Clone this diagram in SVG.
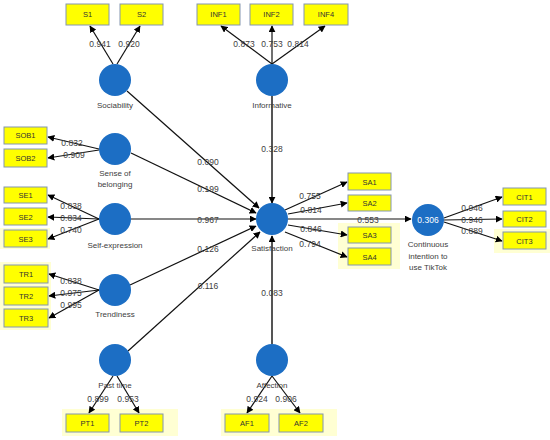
<svg xmlns="http://www.w3.org/2000/svg" width="550" height="440" viewBox="0 0 550 440">
<defs>
<marker id="ah" viewBox="0 0 10 10" refX="9" refY="5" markerWidth="7" markerHeight="7" markerUnits="userSpaceOnUse" orient="auto">
<path d="M0,0 L10,5 L0,10 z" fill="#000"/>
</marker>
<style>
.box{fill:#FFFF00;stroke:#8496B0;stroke-width:1}
.hl{fill:#FFFFC0;opacity:0.7}
.lv{fill:#1C6EC4}
.bt{font-family:"Liberation Sans",Arial,sans-serif;font-size:7.5px;fill:#333;text-anchor:middle}
.lb{font-family:"Liberation Sans",Arial,sans-serif;font-size:8px;fill:#404040;text-anchor:middle}
.cf{font-family:"Liberation Sans",Arial,sans-serif;font-size:8.5px;fill:#404040;text-anchor:middle}
.ln{stroke:#111;stroke-width:1.2;fill:none}
.gv{stroke:#555;stroke-width:2;fill:none}
</style>
</defs>
<rect width="550" height="440" fill="#fff"/>
<g id="highlights">
<rect class="hl" x="338" y="223" width="62" height="46"/>
<rect class="hl" x="494" y="229" width="56" height="24"/>
<rect class="hl" x="0" y="228" width="50" height="21"/>
<rect class="hl" x="0" y="262" width="51" height="68"/>
<rect class="hl" x="62" y="409" width="116" height="27"/>
<rect class="hl" x="221" y="409" width="116" height="27"/>
</g>
<g id="connectors">
<line class="ln" x1="113" y1="64" x2="90" y2="26" marker-end="url(#ah)"/>
<line class="ln" x1="117" y1="64" x2="140" y2="26" marker-end="url(#ah)"/>
<line class="ln" x1="272" y1="64" x2="221" y2="26" marker-end="url(#ah)"/>
<line class="ln" x1="272" y1="64" x2="272" y2="26" marker-end="url(#ah)"/>
<line class="ln" x1="272" y1="64" x2="325" y2="26" marker-end="url(#ah)"/>
<line class="ln" x1="99" y1="149" x2="48" y2="137" marker-end="url(#ah)"/>
<line class="ln" x1="99" y1="150" x2="48" y2="158" marker-end="url(#ah)"/>
<line class="ln" x1="99" y1="219" x2="48" y2="195" marker-end="url(#ah)"/>
<line class="ln" x1="99" y1="219" x2="48" y2="217" marker-end="url(#ah)"/>
<line class="ln" x1="99" y1="219" x2="48" y2="239" marker-end="url(#ah)"/>
<line class="ln" x1="99" y1="290" x2="49" y2="274" marker-end="url(#ah)"/>
<line class="ln" x1="99" y1="290" x2="49" y2="296" marker-end="url(#ah)"/>
<line class="ln" x1="99" y1="290" x2="49" y2="318" marker-end="url(#ah)"/>
<line class="ln" x1="113" y1="376" x2="89" y2="413" marker-end="url(#ah)"/>
<line class="ln" x1="117" y1="376" x2="139" y2="413" marker-end="url(#ah)"/>
<line class="ln" x1="272" y1="376" x2="247" y2="413" marker-end="url(#ah)"/>
<line class="ln" x1="272" y1="376" x2="300" y2="413" marker-end="url(#ah)"/>
<line class="ln" x1="127" y1="91" x2="259" y2="208" marker-end="url(#ah)"/>
<line class="ln" x1="131" y1="153" x2="256" y2="213" marker-end="url(#ah)"/>
<line class="ln" x1="131" y1="219" x2="256" y2="219" marker-end="url(#ah)"/>
<line class="ln" x1="130" y1="285" x2="256" y2="226" marker-end="url(#ah)"/>
<line class="ln" x1="128" y1="351" x2="260" y2="232" marker-end="url(#ah)"/>
<line class="gv" x1="272" y1="96" x2="272" y2="203" marker-end="url(#ah)"/>
<line class="gv" x1="272" y1="344" x2="272" y2="236" marker-end="url(#ah)"/>
<line class="ln" x1="285" y1="210" x2="347" y2="182" marker-end="url(#ah)"/>
<line class="ln" x1="288" y1="214" x2="347" y2="203" marker-end="url(#ah)"/>
<line class="ln" x1="288" y1="225" x2="347" y2="235" marker-end="url(#ah)"/>
<line class="ln" x1="285" y1="232" x2="347" y2="257" marker-end="url(#ah)"/>
<line class="ln" x1="288" y1="219" x2="411" y2="219" marker-end="url(#ah)"/>
<line class="ln" x1="444" y1="218" x2="502" y2="197" marker-end="url(#ah)"/>
<line class="ln" x1="444" y1="220" x2="502" y2="219" marker-end="url(#ah)"/>
<line class="ln" x1="444" y1="222" x2="502" y2="241" marker-end="url(#ah)"/>
</g>
<g id="coefficients">
<text class="cf" x="100" y="47">0.941</text>
<text class="cf" x="129" y="47">0.920</text>
<text class="cf" x="244" y="47">0.873</text>
<text class="cf" x="272" y="47">0.753</text>
<text class="cf" x="298" y="47">0.814</text>
<text class="cf" x="72" y="146">0.832</text>
<text class="cf" x="74" y="158">0.909</text>
<text class="cf" x="71" y="209">0.838</text>
<text class="cf" x="71" y="221">0.834</text>
<text class="cf" x="71" y="233">0.740</text>
<text class="cf" x="71" y="284">0.838</text>
<text class="cf" x="71" y="296">0.975</text>
<text class="cf" x="71" y="308">0.995</text>
<text class="cf" x="98" y="402">0.899</text>
<text class="cf" x="128" y="402">0.953</text>
<text class="cf" x="257" y="402">0.924</text>
<text class="cf" x="286" y="402">0.906</text>
<text class="cf" x="208" y="165">0.090</text>
<text class="cf" x="208" y="192">0.199</text>
<text class="cf" x="208" y="223">0.967</text>
<text class="cf" x="208" y="252">0.126</text>
<text class="cf" x="208" y="289">0.116</text>
<text class="cf" x="272" y="152">0.328</text>
<text class="cf" x="272" y="296">0.083</text>
<text class="cf" x="310" y="199">0.755</text>
<text class="cf" x="311" y="213">0.814</text>
<text class="cf" x="311" y="232">0.846</text>
<text class="cf" x="310" y="247">0.794</text>
<text class="cf" x="368" y="223">0.553</text>
<text class="cf" x="472" y="211">0.946</text>
<text class="cf" x="472" y="223">0.946</text>
<text class="cf" x="472" y="234">0.889</text>
</g>
<g id="S1"><rect class="box" x="66" y="4" width="43" height="21"/><text class="bt" x="87.5" y="17">S1</text></g>
<g id="S2"><rect class="box" x="120" y="4" width="43" height="21"/><text class="bt" x="141.5" y="17">S2</text></g>
<g id="INF1"><rect class="box" x="197" y="4" width="43" height="21"/><text class="bt" x="218.5" y="17">INF1</text></g>
<g id="INF2"><rect class="box" x="250" y="4" width="43" height="21"/><text class="bt" x="271.5" y="17">INF2</text></g>
<g id="INF4"><rect class="box" x="304" y="4" width="44" height="21"/><text class="bt" x="326" y="17">INF4</text></g>
<g id="SOB1"><rect class="box" x="4" y="127" width="43" height="17"/><text class="bt" x="25.5" y="138">SOB1</text></g>
<g id="SOB2"><rect class="box" x="4" y="149" width="43" height="18"/><text class="bt" x="25.5" y="161">SOB2</text></g>
<g id="SE1"><rect class="box" x="4" y="187" width="43" height="16"/><text class="bt" x="25.5" y="198">SE1</text></g>
<g id="SE2"><rect class="box" x="4" y="208" width="43" height="17"/><text class="bt" x="25.5" y="219.5">SE2</text></g>
<g id="SE3"><rect class="box" x="4" y="230" width="43" height="17"/><text class="bt" x="25.5" y="241.5">SE3</text></g>
<g id="TR1"><rect class="box" x="4" y="265" width="44" height="18"/><text class="bt" x="26" y="277">TR1</text></g>
<g id="TR2"><rect class="box" x="4" y="287" width="44" height="18"/><text class="bt" x="26" y="299">TR2</text></g>
<g id="TR3"><rect class="box" x="4" y="309" width="44" height="18"/><text class="bt" x="26" y="321">TR3</text></g>
<g id="PT1"><rect class="box" x="66" y="414" width="43" height="18"/><text class="bt" x="87.5" y="426">PT1</text></g>
<g id="PT2"><rect class="box" x="120" y="414" width="43" height="18"/><text class="bt" x="141.5" y="426">PT2</text></g>
<g id="AF1"><rect class="box" x="225" y="414" width="44" height="18"/><text class="bt" x="247" y="426">AF1</text></g>
<g id="AF2"><rect class="box" x="279" y="414" width="44" height="18"/><text class="bt" x="301" y="426">AF2</text></g>
<g id="SA1"><rect class="box" x="348" y="173" width="43" height="17"/><text class="bt" x="369.5" y="184.5">SA1</text></g>
<g id="SA2"><rect class="box" x="348" y="195" width="43" height="16"/><text class="bt" x="369.5" y="206">SA2</text></g>
<g id="SA3"><rect class="box" x="348" y="227" width="43" height="16"/><text class="bt" x="369.5" y="238">SA3</text></g>
<g id="SA4"><rect class="box" x="348" y="248" width="43" height="17"/><text class="bt" x="369.5" y="259.5">SA4</text></g>
<g id="CIT1"><rect class="box" x="503" y="188" width="43" height="17"/><text class="bt" x="524.5" y="199.5">CIT1</text></g>
<g id="CIT2"><rect class="box" x="503" y="211" width="43" height="16"/><text class="bt" x="524.5" y="222">CIT2</text></g>
<g id="CIT3"><rect class="box" x="503" y="232" width="43" height="17"/><text class="bt" x="524.5" y="243.5">CIT3</text></g>
<g id="Sociability"><circle class="lv" cx="115" cy="80" r="16"/><text class="lb" x="115" y="108">Sociability</text></g>
<g id="Informative"><circle class="lv" cx="272" cy="80" r="16"/><text class="lb" x="272" y="108">Informative</text></g>
<g id="SenseOfBelonging"><circle class="lv" cx="115" cy="149" r="16"/><text class="lb" x="115" y="176">Sense of</text><text class="lb" x="115" y="187">belonging</text></g>
<g id="SelfExpression"><circle class="lv" cx="115" cy="219" r="16"/><text class="lb" x="115" y="248">Self-expression</text></g>
<g id="Trendiness"><circle class="lv" cx="115" cy="290" r="16"/><text class="lb" x="115" y="317">Trendiness</text></g>
<g id="PastTime"><circle class="lv" cx="115" cy="360" r="16"/><text class="lb" x="115" y="388">Past time</text></g>
<g id="Affection"><circle class="lv" cx="272" cy="360" r="16"/><text class="lb" x="272" y="388">Affection</text></g>
<g id="Satisfaction"><circle class="lv" cx="272" cy="219" r="16"/><text class="lb" x="272" y="251">Satisfaction</text></g>
<g id="ContinuousIntention"><circle class="lv" cx="428" cy="220" r="16"/><text x="428" y="223" style="font-family:'Liberation Sans',Arial,sans-serif;font-size:8.5px;fill:#fff;text-anchor:middle">0.306</text><text class="lb" x="428" y="247">Continuous</text><text class="lb" x="428" y="259">intention to</text><text class="lb" x="428" y="270">use TikTok</text></g>
</svg>
